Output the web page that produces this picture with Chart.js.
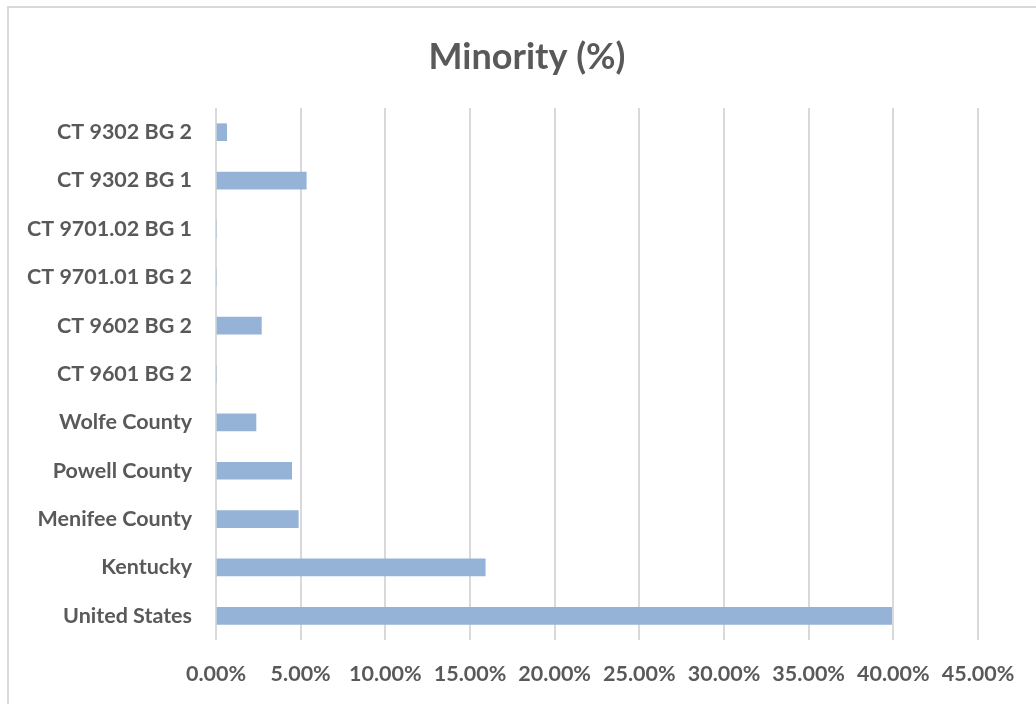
<!DOCTYPE html>
<html>
<head>
<meta charset="utf-8">
<script src="https://cdn.jsdelivr.net/npm/chart.js@4/dist/chart.umd.min.js"></script>
<style>
  html, body { margin: 0; padding: 0; background: #fff; overflow: hidden; }
  #frame {
    position: absolute; left: 7px; top: 6px;
    width: 1100px; height: 800px;
    border: 2px solid #d9d9d9;
  }
  #wrap { position: absolute; left: 0; top: 0; width: 1036px; height: 704px; }
</style>
</head>
<body>
<div id="frame"></div>
<div id="wrap"><canvas id="chart"></canvas></div>
<script>
// categories, top to bottom
const areas = [
  "CT 9302 BG 2",
  "CT 9302 BG 1",
  "CT 9701.02 BG 1",
  "CT 9701.01 BG 2",
  "CT 9602 BG 2",
  "CT 9601 BG 2",
  "Wolfe County",
  "Powell County",
  "Menifee County",
  "Kentucky",
  "United States"
];
// minority share, percent
const minorityPct = [0.63, 5.33, 0, 0, 2.68, 0, 2.36, 4.47, 4.86, 15.9, 39.9];
const axisMin = 0;
const axisMax = 45;
const axisStep = 5;

const grey = "#595959";

new Chart(document.getElementById("chart"), {
  type: "bar",
  data: {
    labels: areas,
    datasets: [{
      data: minorityPct,
      backgroundColor: "#95b3d7",
      borderWidth: 0,
      barThickness: 17
    }]
  },
  options: {
    indexAxis: "y",
    responsive: true,
    maintainAspectRatio: false,
    animation: false,
    layout: { padding: { left: 18, right: 0, top: 0, bottom: 0 } },
    plugins: {
      legend: { display: false },
      tooltip: { enabled: false },
      title: {
        display: true,
        text: "Minority (%)",
        color: grey,
        font: { family: "Lato", size: 36, weight: "bold" },
        padding: { top: 35.4, bottom: 29.4 }
      }
    },
    scales: {
      x: {
        min: axisMin,
        max: axisMax,
        ticks: {
          stepSize: axisStep,
          color: grey,
          padding: 21,
          font: { family: "Lato", size: 21.5, weight: "bold" },
          callback: v => v.toFixed(2) + "%"
        },
        grid: { color: "#d9d9d9", lineWidth: 2, drawTicks: false },
        border: { display: false },
        afterFit: s => { s.height = 64; s.paddingRight = 58; }
      },
      y: {
        ticks: {
          color: grey,
          padding: 24,
          font: { family: "Lato", size: 21.5, weight: "bold" }
        },
        grid: { display: false, drawTicks: false },
        border: { display: false },
        afterFit: s => { s.width = 198; }
      }
    }
  }
});
</script>
</body>
</html>
